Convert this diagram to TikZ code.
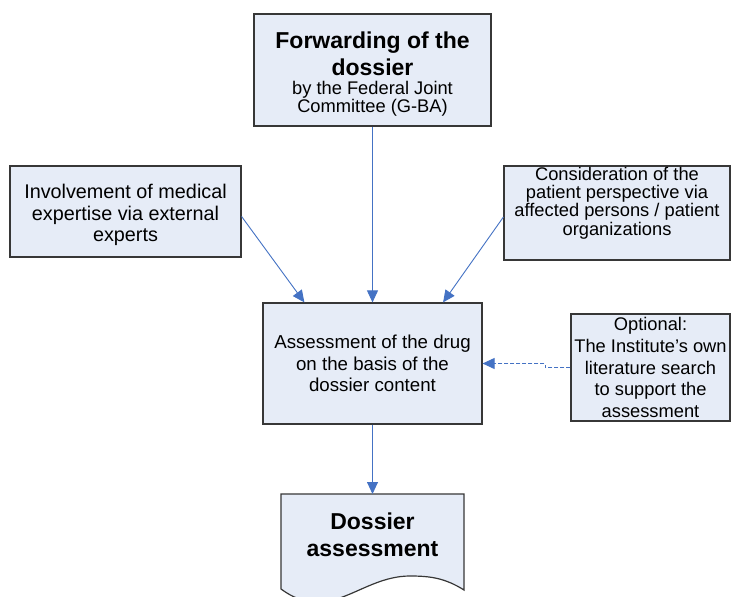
\documentclass[tikz,border=0pt]{standalone}
\usepackage{fontspec}
\setmainfont{Liberation Sans}
\usetikzlibrary{arrows.meta,calc}
\definecolor{boxfill}{RGB}{230,236,247}
\definecolor{boxdraw}{RGB}{55,55,55}
\definecolor{arr}{RGB}{68,114,196}
\newcommand\bigb{\fontsize{23}{26.7}\selectfont\bfseries}
\tikzset{
  panel/.style={draw=boxdraw, fill=boxfill, line width=1.2pt, inner sep=0pt},
  txt/.style={align=center, inner sep=0pt, font=\fontsize{18.3}{21.7}\selectfont},
  conn/.style={draw=arr, line width=0.9pt, -{Triangle[width=11pt,length=12pt]}},
  dashline/.style={draw=arr, line width=0.9pt, dash pattern=on 4pt off 2pt},
}
\begin{document}
\begin{tikzpicture}[x=1pt,y=-1pt]
\useasboundingbox (0,0) rectangle (731,597);
\fill[white] (0,0) rectangle (731,597);

% top box
\node[panel, minimum width=237pt, minimum height=112pt] (fwd) at (372.5,70) {};
\node[txt] (fwdT) at (372.5,74) {{\bigb Forwarding of the}\\[5pt]{\bigb dossier}\\[-2.7pt]by the Federal Joint\\[-3.4pt]Committee (G-BA)};

% left box
\node[panel, minimum width=231pt, minimum height=91pt] (inv) at (125.5,211.5) {};
\node[txt, font=\fontsize{19.8}{21.7}\selectfont] (invT) at (125.5,215) {Involvement of medical\\expertise via external\\experts};

% right box
\node[panel, minimum width=226pt, minimum height=94pt] (cons) at (617,213) {};
\node[txt, font=\fontsize{18.3}{18.3}\selectfont] (consT) at (617,203) {Consideration of the\\patient perspective via\\affected persons / patient\\organizations};

% middle box
\node[panel, txt, font=\fontsize{18.7}{21.7}\selectfont, minimum width=219pt, minimum height=121pt] (mid) at (372.5,363.5) {Assessment of the drug\\on the basis of the\\dossier content};

% optional box
\node[panel, txt, minimum width=159pt, minimum height=107pt] (opt) at (650.5,367.5) {Optional:\\The Institute’s own\\literature search\\to support the\\assessment};

% document shape
\begin{scope}
\clip (0,0) rectangle (731,597);
\path[draw=boxdraw, fill=boxfill, line width=1.2pt]
  (281,589) -- (281,494) -- (464,494) -- (464,590)
  .. controls (445,578) and (430,576) .. (410,576)
  .. controls (360,576) and (330,625) .. (281,589) -- cycle;
\end{scope}
\coordinate (doctop) at (372.5,494);
\node[txt, font=\bigb] (docT) at (372.5,534.5) {Dossier\\assessment};

% connectors
\draw[conn] (fwd.south) -- (mid.north);
\draw[conn] ($(inv.east)+(0,5)$) -- ($(mid.north west)+(42,0)$);
\draw[conn] ($(cons.west)+(0,4)$) -- ($(mid.north east)+(-39.5,0)$);
\draw[dashline] (opt.west) -- ($(opt.west)+(-25,0)$) |- ($(mid.east)+(12,0)$);
\draw[conn] ($(mid.east)+(13,0)$) -- (mid.east);
\draw[conn] (mid.south) -- (doctop);
\end{tikzpicture}
\end{document}
